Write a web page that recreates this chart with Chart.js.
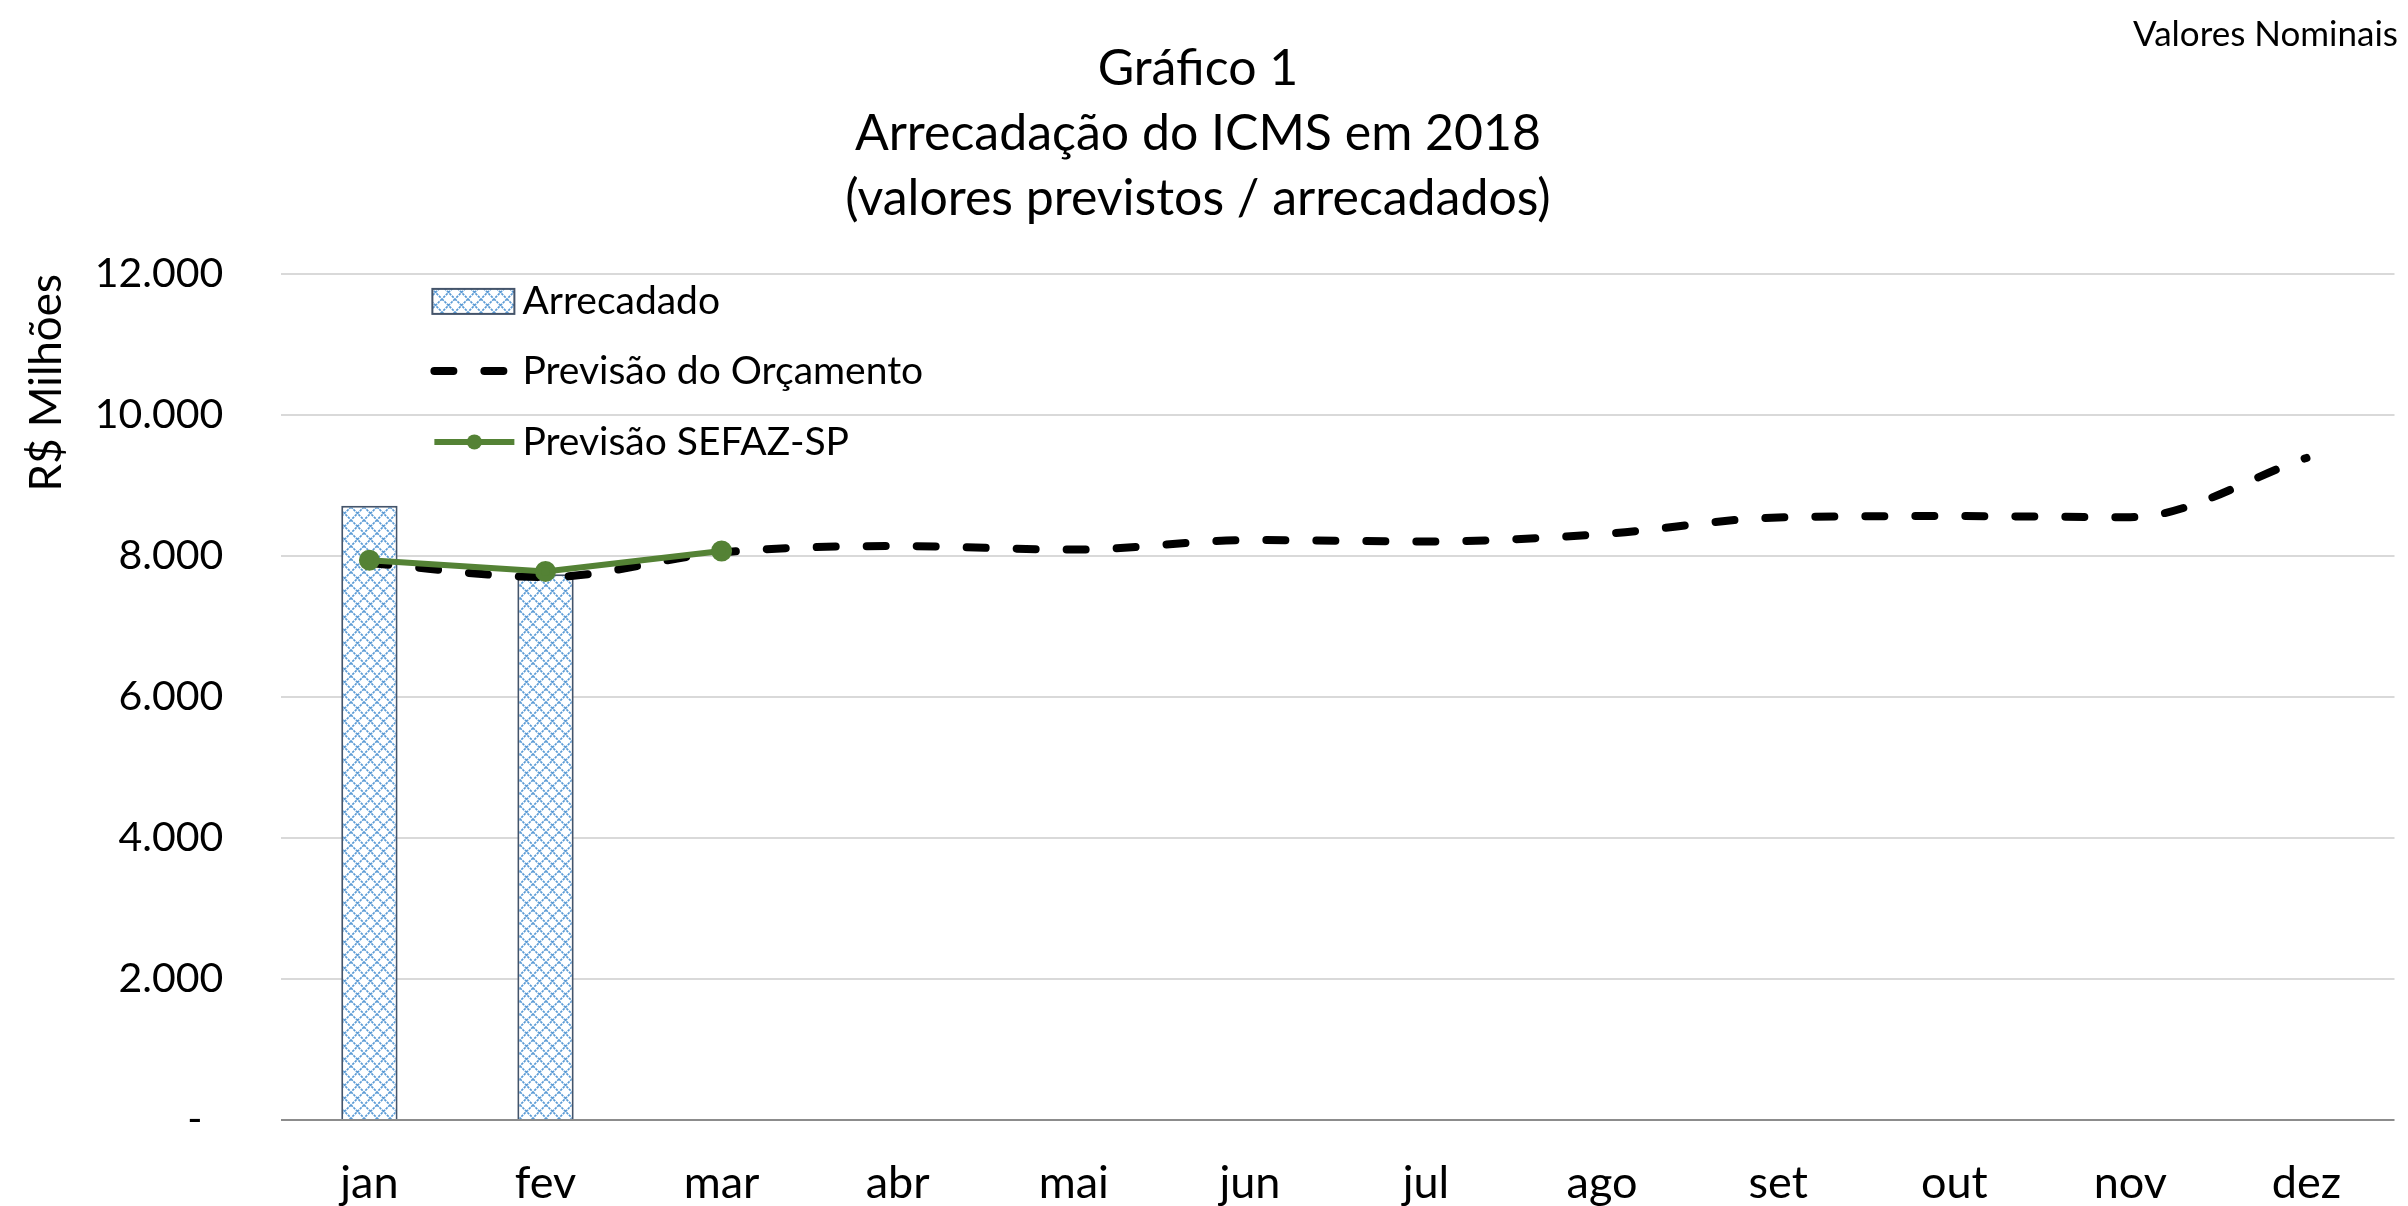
<!DOCTYPE html>
<html>
<head>
<meta charset="utf-8">
<script src="https://cdn.jsdelivr.net/npm/chart.js@4.4.1/dist/chart.umd.min.js"></script>
<style>
  html, body { margin: 0; padding: 0; background: #fff; }
  #wrap { width: 2408px; height: 1206px; }
</style>
</head>
<body>
<div id="wrap"><canvas id="chart" width="2408" height="1206"></canvas></div>
<script>
const months = ['jan', 'fev', 'mar', 'abr', 'mai', 'jun', 'jul', 'ago', 'set', 'out', 'nov', 'dez'];
const arrecadado = [8710, 7740, null, null, null, null, null, null, null, null, null, null];
const previsaoOrcamento = [7900, 7700, 8050, 8140, 8090, 8225, 8205, 8310, 8545, 8565, 8550, 9390];
const previsaoSefaz = [7940, 7780, 8070, null, null, null, null, null, null, null, null, null];
const yTicks = [0, 2000, 4000, 6000, 8000, 10000, 12000];

const FONT = 'Lato, "Open Sans", sans-serif';

// hatch pattern like the Excel "dotted diamond" fill
function makePattern() {
  const c = document.createElement('canvas');
  c.width = 13; c.height = 13;
  const g = c.getContext('2d');
  g.fillStyle = '#ffffff';
  g.fillRect(0, 0, 13, 13);
  g.strokeStyle = '#5B9BD5';
  g.lineWidth = 1.7;
  g.setLineDash([2.5, 1]);
  g.beginPath();
  g.moveTo(0, 0); g.lineTo(13, 13);
  g.moveTo(13, 0); g.lineTo(0, 13);
  g.stroke();
  return c;
}
const ctx = document.getElementById('chart').getContext('2d');
const hatch = ctx.createPattern(makePattern(), 'repeat');

function fmt(v) {
  if (v === 0) return '-  ';
  return String(v).replace(/\B(?=(\d{3})+(?!\d))/g, '.');
}

// legend drawn inside the plot area, stacked vertically
const insideLegend = {
  id: 'insideLegend',
  afterDraw(chart) {
    const c = chart.ctx;
    const area = chart.chartArea;
    const x0 = area.left + 149;
    const rows = [area.top + 27, area.top + 97, area.top + 168];
    const ds = chart.data.datasets;
    c.save();
    c.font = '39px ' + FONT;
    c.textBaseline = 'middle';
    c.textAlign = 'left';
    ds.forEach((d, r) => {
      const y = rows[r];
      if (d.type === 'bar') {
        c.fillStyle = hatch;
        c.fillRect(x0 + 2, y - 12, 82, 25);
        c.strokeStyle = d.borderColor;
        c.lineWidth = 2;
        c.strokeRect(x0 + 2, y - 12, 82, 25);
      } else {
        c.strokeStyle = d.borderColor;
        c.lineWidth = d.borderWidth;
        c.lineCap = d.borderCapStyle || 'butt';
        c.setLineDash(d.borderDash || []);
        c.beginPath();
        c.moveTo(x0 + 4, y);
        c.lineTo(x0 + 84, y);
        c.stroke();
        c.setLineDash([]);
        if (d.pointRadius) {
          c.fillStyle = d.pointBackgroundColor;
          c.beginPath();
          c.arc(x0 + 44, y, d.pointRadius, 0, Math.PI * 2);
          c.fill();
        }
      }
      c.fillStyle = '#000';
      c.fillText(d.label, x0 + 92, y + 1);
    });
    c.restore();
  }
};

const cornerNote = {
  id: 'cornerNote',
  afterDraw(chart) {
    const c = chart.ctx;
    c.save();
    c.font = '35px ' + FONT;
    c.fillStyle = '#000';
    c.textAlign = 'right';
    c.textBaseline = 'middle';
    c.fillText('Valores Nominais', 2398, 35);
    c.restore();
  }
};

new Chart(ctx, {
  data: {
    labels: months,
    datasets: [
      {
        type: 'bar',
        label: 'Arrecadado',
        data: arrecadado,
        backgroundColor: hatch,
        borderColor: '#44546A',
        borderWidth: 2,
        barPercentage: 0.32,
        categoryPercentage: 1,
        order: 3
      },
      {
        type: 'line',
        label: 'Previsão do Orçamento',
        data: previsaoOrcamento,
        borderColor: '#000000',
        borderWidth: 8,
        borderDash: [19, 31],
        borderCapStyle: 'round',
        pointRadius: 0,
        cubicInterpolationMode: 'monotone',
        fill: false,
        order: 2
      },
      {
        type: 'line',
        label: 'Previsão SEFAZ-SP',
        data: previsaoSefaz,
        borderColor: '#548235',
        backgroundColor: '#548235',
        pointBackgroundColor: '#548235',
        pointBorderColor: '#548235',
        borderWidth: 6,
        pointRadius: 7.5,
        tension: 0,
        fill: false,
        order: 1
      }
    ]
  },
  options: {
    responsive: false,
    animation: false,
    devicePixelRatio: 1,
    layout: { padding: { left: 0, right: 12, top: 0, bottom: -40 } },
    plugins: {
      legend: { display: false },
      tooltip: { enabled: false },
      title: {
        display: true,
        text: ['Gráfico 1', 'Arrecadação do ICMS em 2018', '(valores previstos / arrecadados)'],
        color: '#000',
        font: { family: FONT, size: 50, weight: 'normal', lineHeight: 1.306 },
        padding: { top: 36, bottom: 42 }
      }
    },
    scales: {
      x: {
        grid: { display: false, drawTicks: false },
        border: { display: false },
        ticks: {
          color: '#000',
          font: { family: FONT, size: 45 },
          padding: 36
        }
      },
      y: {
        min: 0,
        max: 12000,
        afterBuildTicks(scale) {
          scale.ticks = yTicks.map(v => ({ value: v }));
        },
        grid: {
          color: c => (c.tick && c.tick.value === 0 ? '#8C8C8C' : '#D9D9D9'),
          lineWidth: 2,
          drawTicks: false
        },
        border: { display: false },
        ticks: {
          color: '#000',
          font: { family: FONT, size: 41 },
          padding: 58,
          callback: v => fmt(v)
        },
        title: {
          display: true,
          text: 'R$ Milhões',
          align: 'end',
          color: '#000',
          font: { family: FONT, size: 44 },
          padding: { top: 20, bottom: -36 }
        }
      }
    }
  },
  plugins: [insideLegend, cornerNote]
});
</script>
</body>
</html>
